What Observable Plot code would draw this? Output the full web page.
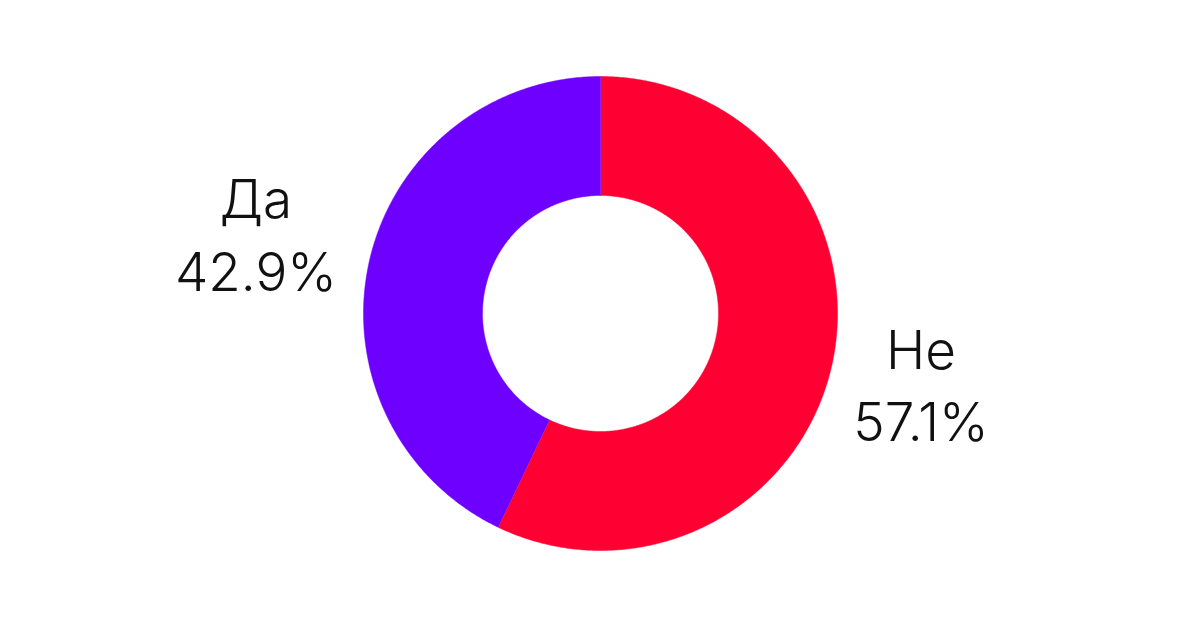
<!DOCTYPE html>
<html>
<head>
<meta charset="utf-8">
<script src="https://cdn.jsdelivr.net/npm/d3@7"></script>
<script src="https://cdn.jsdelivr.net/npm/@observablehq/plot@0.6"></script>
<style>
  html, body { margin: 0; padding: 0; background: #fff; }
  #chart svg { display: block; }
</style>
</head>
<body>
<div id="chart"></div>
<script>
const categories = ["Не", "Да"];
const shares = [57.1, 42.9];
const colors = ["#FF0033", "#6E00FF"];

const W = 1200, H = 628;
const cx = 600, cy = 313;
const outerR = 237, innerR = 118, labelR = 341;

const arcs = d3.pie().sort(null).value(d => d)(shares);

function slicePoints(a, i) {
  const pts = [];
  const n = Math.max(8, Math.ceil((a.endAngle - a.startAngle) / (Math.PI / 360)));
  for (let k = 0; k <= n; k++) {
    const t = a.startAngle + (a.endAngle - a.startAngle) * k / n;
    pts.push({x: outerR * Math.sin(t), y: outerR * Math.cos(t), i});
  }
  for (let k = n; k >= 0; k--) {
    const t = a.startAngle + (a.endAngle - a.startAngle) * k / n;
    pts.push({x: innerR * Math.sin(t), y: innerR * Math.cos(t), i});
  }
  return pts;
}

const labelData = arcs.map((a, i) => {
  const m = (a.startAngle + a.endAngle) / 2;
  return {
    x: labelR * Math.sin(m),
    y: labelR * Math.cos(m),
    text: `${categories[i]}\n${shares[i].toFixed(1)}%`
  };
});

const chart = Plot.plot({
  width: W,
  height: H,
  margin: 0,
  x: {domain: [-cx, W - cx], axis: null},
  y: {domain: [-(H - cy), cy], axis: null},
  style: {background: "#fff"},
  marks: [
    ...arcs.map((a, i) => Plot.line(slicePoints(a, i), {
      x: "x", y: "y", fill: colors[i], stroke: colors[i], strokeWidth: 0.5
    })),
    Plot.text(labelData, {
      x: "x", y: "y", text: "text",
      fontSize: 53, lineHeight: 1.37, fill: "#111",
      fontFamily: "Inter, sans-serif", fontWeight: 300,
      dx: -12, dy: -7
    })
  ]
});
document.getElementById("chart").appendChild(chart);
</script>
</body>
</html>
